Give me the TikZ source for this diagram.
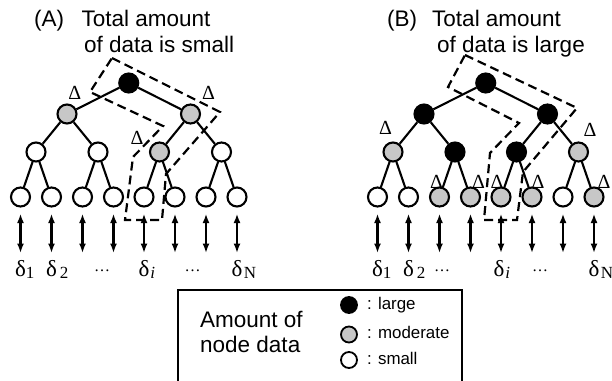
\documentclass[tikz,border=0pt]{standalone}
\usepackage{fontspec}
\setmainfont{Liberation Sans}
\newfontfamily\grkfont{Liberation Serif}
\usetikzlibrary{trees,arrows.meta,positioning}

\newcommand{\dsub}[1]{{\fontsize{17}{17}\selectfont\raisebox{-1.5pt}{#1}}}

\tikzset{
  nd/.style={circle, draw, line width=2.1pt, minimum size=19pt, inner sep=0pt},
  lg/.style={nd, fill=black},
  md/.style={nd, fill=black!22},
  sm/.style={nd, fill=white},
  tri/.style={font=\grkfont\fontsize{20}{20}\selectfont, inner sep=0pt},
  dl/.style={font=\grkfont\fontsize{23}{23}\selectfont, inner sep=0pt, anchor=base},
  dts/.style={font=\grkfont\fontsize{16}{16}\selectfont, inner sep=0pt},
  ttl/.style={font=\fontsize{22.5}{27}\selectfont, inner sep=0pt, anchor=base west},
  legc/.style={circle, draw, line width=1.8pt, minimum size=16pt, inner sep=0pt},
  legt/.style={font=\fontsize{16.9}{20}\selectfont, inner sep=0pt, text height=9pt, text depth=1pt},
  band/.style={dash pattern=on 9pt off 5pt, line width=2.2pt},
  dbl/.style={<->, line width=2.2pt, shorten <=6pt},
}

\begin{document}
\begin{tikzpicture}[x=1pt, y=1pt, >={Latex[length=9.5pt,width=7pt]},
  level 1/.style={sibling distance=123.5pt, level distance=31pt},
  level 2/.style={sibling distance=62pt, level distance=38pt},
  level 3/.style={sibling distance=31pt, level distance=45pt},
  edge from parent/.style={draw, line width=2.1pt}]
\useasboundingbox (0,0) rectangle (612,380);

% (A) small amount
\node[ttl] (labA) at (34,353) {(A)};
\node[ttl] (ttlA1) at (81.5,353) {Total amount};
\node[ttl] (ttlA2) at (84,327) {of data is small};

\node[lg] (A) at (128.75,297) {}
  child {node[md] {}
    child {node[sm] {}
      child {node[sm] {}}
      child {node[sm] {}}
    }
    child {node[sm] {}
      child {node[sm] {}}
      child {node[sm] {}}
    }
  }
  child {node[md] {}
    child {node[md] {}
      child {node[sm] {}}
      child {node[sm] {}}
    }
    child {node[sm] {}
      child {node[sm] {}}
      child {node[sm] {}}
    }
  };
\node[tri] (A-t1) at ([shift={(7.75,21)}]A-1) {Δ};
\node[tri] (A-t2) at ([shift={(18,21)}]A-2) {Δ};
\node[tri] (A-t3) at ([shift={(-22.5,14.5)}]A-2-1) {Δ};
% path to delta_i
\draw[band] (112,322) -- (220,268) -- (166,206) -- (162,160) -- (125,160)
  -- (133,223) -- (163,254) -- (90,288) -- cycle;

% (B) large amount
\node[ttl] (labB) at (387,353) {(B)};
\node[ttl] (ttlB1) at (432,353) {Total amount};
\node[ttl] (ttlB2) at (437,327) {of data is large};

\node[lg] (B) at (485.75,297) {}
  child {node[lg] {}
    child {node[md] {}
      child {node[sm] {}}
      child {node[sm] {}}
    }
    child {node[lg] {}
      child {node[md] {}}
      child {node[md] {}}
    }
  }
  child {node[lg] {}
    child {node[lg] {}
      child {node[md] {}}
      child {node[md] {}}
    }
    child {node[md] {}
      child {node[sm] {}}
      child {node[md] {}}
    }
  };
\node[tri] (B-t1) at ([shift={(-7.5,24)}]B-1-1) {Δ};
\node[tri] (B-t2) at ([shift={(11.5,22)}]B-2-2) {Δ};
\node[tri] (B-t3) at ([shift={(-3,15)}]B-1-2-1) {Δ};
\node[tri] (B-t4) at ([shift={(8,15)}]B-1-2-2) {Δ};
\node[tri] (B-t5) at ([shift={(-4,15)}]B-2-1-1) {Δ};
\node[tri] (B-t6) at ([shift={(6,15)}]B-2-1-2) {Δ};
\node[tri] (B-t7) at ([shift={(10,15)}]B-2-2-2) {Δ};
\draw[band] (465,325) -- (577,272) -- (523,208) -- (517,160) -- (484,160)
  -- (490,227) -- (519,257) -- (448,293) -- cycle;

% leaf data
\foreach \t in {A,B}
  \foreach \l in {1-1-1,1-1-2,1-2-1,1-2-2,2-1-1,2-1-2,2-2-1,2-2-2} {
    \path (\t-\l.south) ++(0,-45.5) coordinate (\t-\l-e);
    \draw[dbl] (\t-\l) -- (\t-\l-e);
  }
\coordinate (lbl) at (0,103);
\node[dl] (A-d1) at (A-1-1-1 |- lbl) {δ\rlap{\dsub{1}}};
\node[dl] (A-d2) at (A-1-1-2 |- lbl) {δ\rlap{\kern3pt\dsub{2}}};
\node[dts] (A-dots1) at (102,109) {\ldots};
\node[dl] (A-di) at (A-2-1-1 |- lbl) {δ\rlap{\kern1pt\dsub{\itshape i}}};
\node[dts] (A-dots2) at (192.5,109) {\ldots};
\node[dl] (A-dN) at (A-2-2-2 |- lbl) {δ\rlap{\kern1.5pt\dsub{N}}};

\node[dl] (B-d1) at (B-1-1-1 |- lbl) {δ\rlap{\dsub{1}}};
\node[dl] (B-d2) at (B-1-1-2 |- lbl) {δ\rlap{\kern3pt\dsub{2}}};
\node[dts] (B-dots1) at (442,109) {\ldots};
\node[dl] (B-di) at ([xshift=-2pt]B-2-1-1 |- lbl) {δ\rlap{\kern1pt\dsub{\itshape i}}};
\node[dts] (B-dots2) at (540,109) {\ldots};
\node[dl] (B-dN) at (B-2-2-2 |- lbl) {δ\rlap{\kern1.5pt\dsub{N}}};

% legend
\draw[line width=1.6pt] (178,90) rectangle (462,-6);
\node[ttl] (legA) at (200,53) {Amount of};
\node[ttl] (legB) at (200,28) {node data};
\node[legc, fill=black] (cL) at (349,75) {};
\node[legc, fill=black!22] (cM) at (349,45.5) {};
\node[legc, fill=white] (cS) at (349,20) {};
\node[legt, right=9pt of cL] (tL) {: large};
\node[legt, right=9pt of cM] (tM) {: moderate};
\node[legt, right=9pt of cS] (tS) {: small};

\end{tikzpicture}
\end{document}
